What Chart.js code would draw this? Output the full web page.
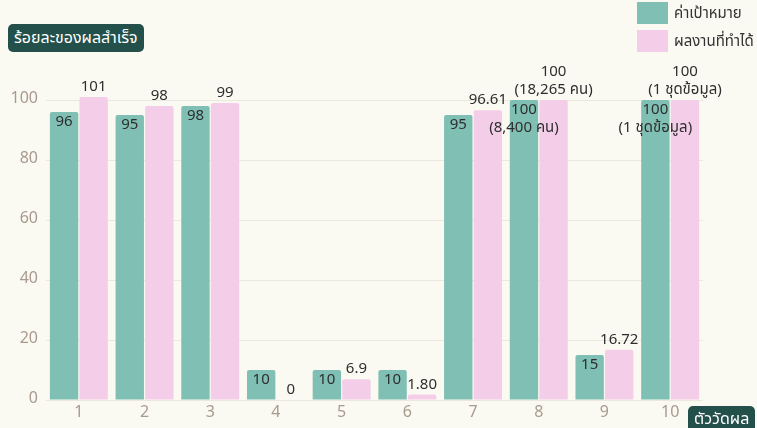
<!DOCTYPE html>
<html><head><meta charset="utf-8">
<script src="https://cdn.jsdelivr.net/npm/chart.js@4/dist/chart.umd.min.js"></script>
<style>
html,body{margin:0;padding:0;background:#fbfaf2;}
#wrap{position:relative;width:757px;height:428px;overflow:hidden;font-family:"Noto Sans Thai","Noto Sans","Lato",sans-serif;}
#c{position:absolute;left:0;top:0;}
.tag{position:absolute;background:#23504a;color:#fff;border-radius:5px;font-size:16px;line-height:28px;padding:0 6px;white-space:nowrap;}
#legend{position:absolute;left:637px;top:2px;width:130px;}
.li{display:flex;align-items:center;height:22px;margin-bottom:6px;font-size:15px;color:#333;white-space:nowrap;}
.sw{width:31px;height:22px;margin-right:6px;flex:none;}
</style></head>
<body><div id="wrap">
<canvas id="c" width="757" height="428"></canvas>
<div class="tag" id="ytitle" style="left:8px;top:24px;">ร้อยละของผลสำเร็จ</div>
<div class="tag" id="xtitle" style="left:688px;top:406px;line-height:26px;border-radius:5px 5px 0 0;">ตัววัดผล</div>
<div id="legend"></div>
</div>
<script>
const categories = ['1','2','3','4','5','6','7','8','9','10'];
const seriesNames = ['ค่าเป้าหมาย','ผลงานที่ทำได้'];
const targetValues = [96,95,98,10,10,10,95,100,15,100];
const actualValues = [101,98,99,0,6.9,1.80,96.61,100,16.72,100];
const targetLabels = [['96'],['95'],['98'],['10'],['10'],['10'],['95'],['100','(8,400 คน)'],['15'],['100','(1 ชุดข้อมูล)']];
const actualLabels = [['101'],['98'],['99'],['0'],['6.9'],['1.80'],['96.61'],['100','(18,265 คน)'],['16.72'],['100','(1 ชุดข้อมูล)']];
const yTicks = [0,20,40,60,80,100];

const FONT = '"Noto Sans Thai","Noto Sans","Lato",sans-serif';
const colors = ['#80bfb3','#f4cde9'];

const labelPlugin = {
  id:'barLabels',
  afterDatasetsDraw(chart){
    const ctx = chart.ctx;
    ctx.save();
    ctx.font = '15px ' + FONT;
    ctx.fillStyle = '#2e2e2e';
    ctx.textAlign = 'center';
    ctx.textBaseline = 'middle';
    const sets = [targetLabels, actualLabels];
    chart.data.datasets.forEach((ds, di) => {
      const meta = chart.getDatasetMeta(di);
      meta.data.forEach((bar, i) => {
        const lines = sets[di][i];
        if (di === 0) {
          lines.forEach((t, k) => ctx.fillText(t, bar.x, bar.y + 11 + k * 18));
        } else {
          const n = lines.length;
          lines.forEach((t, k) => ctx.fillText(t, bar.x, bar.y - 9 - (n - 1 - k) * 18));
        }
      });
    });
    ctx.restore();
  }
};

const chart = new Chart(document.getElementById('c'), {
  type:'bar',
  data:{
    labels:categories,
    datasets:[
      {label:seriesNames[0], data:targetValues, backgroundColor:colors[0], clip:false,
       borderRadius:{topLeft:2,topRight:2}, borderSkipped:'bottom', categoryPercentage:0.9, barPercentage:0.96},
      {label:seriesNames[1], data:actualValues, backgroundColor:colors[1], clip:false,
       borderRadius:{topLeft:2,topRight:2}, borderSkipped:'bottom', categoryPercentage:0.9, barPercentage:0.96}
    ]
  },
  options:{
    responsive:false,
    animation:false,
    devicePixelRatio:1,
    layout:{padding:{left:0,right:54,top:100,bottom:0}},
    plugins:{legend:{display:false},tooltip:{enabled:false}},
    scales:{
      x:{
        grid:{display:false,drawTicks:false},
        border:{display:false},
        ticks:{color:'#a9998f',font:{size:16,family:FONT},padding:4},
        afterFit(s){s.height=28;}
      },
      y:{
        min:0,max:100,
        afterBuildTicks(s){s.ticks = yTicks.map(v=>({value:v}));},
        grid:{color:'#ece8de',drawTicks:false},
        border:{display:false},
        ticks:{color:'#a9998f',font:{size:16,family:FONT},padding:8},
        afterFit(s){s.width=46;}
      }
    }
  },
  plugins:[labelPlugin]
});

const lg = document.getElementById('legend');
chart.data.datasets.forEach(ds=>{
  const d=document.createElement('div');d.className='li';
  const sw=document.createElement('div');sw.className='sw';sw.style.background=ds.backgroundColor;
  const t=document.createElement('span');t.textContent=ds.label;
  d.appendChild(sw);d.appendChild(t);lg.appendChild(d);
});
</script>
</body></html>
